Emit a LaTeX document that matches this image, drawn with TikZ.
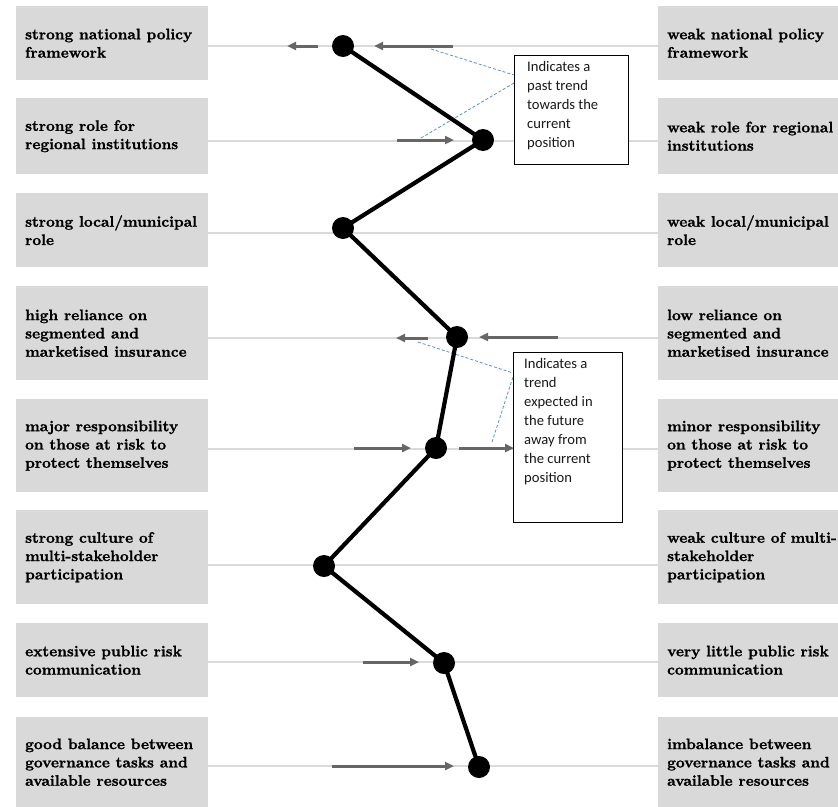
\documentclass[tikz,border=0pt]{standalone}
\usepackage{fontspec}
\newfontfamily\calfont{Carlito}
\newfontfamily\boxfont{lmroman10-bold}[Extension=.otf, FakeBold=1.2]
\usetikzlibrary{arrows.meta}
\definecolor{boxgray}{HTML}{D9D9D9}
\definecolor{guidegray}{HTML}{DADADA}
\definecolor{arrowgray}{HTML}{666666}
\definecolor{dashblue}{HTML}{5B8ED6}
\begin{document}
\begin{tikzpicture}[x=1pt,y=-1pt,
  lbox/.style={fill=boxgray, draw=none, inner sep=0pt, minimum width=192pt, anchor=north west},
  rbox/.style={fill=boxgray, draw=none, inner sep=0pt, minimum width=180pt, anchor=north west},
  btext/.style={anchor=west, align=left, inner sep=0pt, text=black,
    font=\boxfont\fontsize{15.2}{18.3}\selectfont},
  guide/.style={draw=guidegray, line width=2pt},
  callout/.style={draw=black, line width=1.1pt, fill=white, inner sep=0pt, anchor=north west},
  ctext/.style={anchor=north west, align=left, inner sep=0pt, text=black!90,
    font=\calfont\fontsize{14.6}{19}\selectfont},
  trendarrow/.style={draw=arrowgray, line width=3pt, -{Triangle[length=9pt,width=8pt]}},
  leader/.style={draw=dashblue, line width=0.8pt, dash pattern=on 3pt off 2pt},
  trend/.style={draw=black, line width=4.2pt, line join=round},
  dot/.style={circle, fill=black, inner sep=0pt, minimum size=22pt}
]
\useasboundingbox (0,0) rectangle (838,806);

% ---------- label boxes ----------
\node[lbox, minimum height=74pt] (L1) at (16,6) {};
\node[lbox, minimum height=76pt] (L2) at (16,98) {};
\node[lbox, minimum height=74pt] (L3) at (16,193) {};
\node[lbox, minimum height=94pt] (L4) at (16,286) {};
\node[lbox, minimum height=93pt] (L5) at (16,399) {};
\node[lbox, minimum height=94pt] (L6) at (16,510) {};
\node[lbox, minimum height=74pt] (L7) at (16,623) {};
\node[lbox, minimum height=94pt] (L8) at (16,717) {};

\node[rbox, minimum height=74pt] (R1) at (658,6) {};
\node[rbox, minimum height=76pt] (R2) at (658,98) {};
\node[rbox, minimum height=74pt] (R3) at (658,193) {};
\node[rbox, minimum height=94pt] (R4) at (658,286) {};
\node[rbox, minimum height=93pt] (R5) at (658,399) {};
\node[rbox, minimum height=94pt] (R6) at (658,510) {};
\node[rbox, minimum height=74pt] (R7) at (658,623) {};
\node[rbox, minimum height=94pt] (R8) at (658,717) {};

\node[btext] (tL1) at ([xshift=9pt]L1.west) {strong national policy\\framework};
\node[btext] (tL2) at ([xshift=9pt]L2.west) {strong role for\\regional institutions};
\node[btext] (tL3) at ([xshift=9pt]L3.west) {strong local/municipal\\role};
\node[btext] (tL4) at ([xshift=9pt]L4.west) {high reliance on\\segmented and\\marketised insurance};
\node[btext] (tL5) at ([xshift=9pt]L5.west) {major responsibility\\on those at risk to\\protect themselves};
\node[btext] (tL6) at ([xshift=9pt]L6.west) {strong culture of\\multi-stakeholder\\participation};
\node[btext] (tL7) at ([xshift=9pt]L7.west) {extensive public risk\\communication};
\node[btext] (tL8) at ([xshift=9pt,yshift=2pt]L8.west) {good balance between\\governance tasks and\\available resources};

\node[btext] (tR1) at ([xshift=9pt]R1.west) {weak national policy\\framework};
\node[btext] (tR2) at ([xshift=9pt]R2.west) {weak role for regional\\institutions};
\node[btext] (tR3) at ([xshift=9pt]R3.west) {weak local/municipal\\role};
\node[btext] (tR4) at ([xshift=9pt]R4.west) {low reliance on\\segmented and\\marketised insurance};
\node[btext] (tR5) at ([xshift=9pt]R5.west) {minor responsibility\\on those at risk to\\protect themselves};
\node[btext] (tR6) at ([xshift=9pt]R6.west) {weak culture of multi-\\stakeholder\\participation};
\node[btext] (tR7) at ([xshift=9pt]R7.west) {very little public risk\\communication};
\node[btext] (tR8) at ([xshift=9pt,yshift=2pt]R8.west) {imbalance between\\governance tasks and\\available resources};

% ---------- guide lines ----------
\coordinate (y1) at (0,46);
\coordinate (y2) at (0,141);
\coordinate (y3) at (0,233);
\coordinate (y4) at (0,338);
\coordinate (y5) at (0,449);
\coordinate (y6) at (0,565);
\coordinate (y7) at (0,662);
\coordinate (y8) at (0,766);
\foreach \i in {1,...,8}{
  \draw[guide] (L\i.east |- y\i) -- (R\i.west |- y\i);
}

% ---------- callout boxes ----------
\node[callout, minimum width=114pt, minimum height=109pt] (C1) at (514,55) {};
\node[ctext] (tC1) at (527,61) {Indicates a\\past trend\\towards the\\current\\position};
\node[callout, minimum width=109pt, minimum height=170pt] (C2) at (513,352) {};
\node[ctext] (tC2) at (524,358) {Indicates a\\trend\\expected in\\the future\\away from\\the current\\position};

% ---------- leader lines ----------
\coordinate (k1) at (431,49);
\coordinate (k2) at (421,138);
\coordinate (k3) at (418,342);
\coordinate (k4) at (492,442);
\draw[leader] (k1) -- ([yshift=-20pt]C1.north west);
\draw[leader] (k2) -- ([yshift=-28pt]C1.north west);
\draw[leader] (k3) -- ([yshift=-21pt]C2.north west);
\draw[leader] (k4) -- ([yshift=-25pt]C2.north west);

% ---------- trend arrows ----------
\coordinate (a1s) at (318,46);  \coordinate (a1e) at (287,46);
\coordinate (a2s) at (453,46);  \coordinate (a2e) at (374,46);
\coordinate (a3s) at (397,140); \coordinate (a3e) at (454,140);
\coordinate (a4s) at (428,338); \coordinate (a4e) at (396,338);
\coordinate (a5s) at (558,337); \coordinate (a5e) at (479,337);
\coordinate (a6s) at (354,448); \coordinate (a6e) at (411,448);
\coordinate (a7s) at (459,448); \coordinate (a7e) at (514,448);
\coordinate (a8s) at (363,662); \coordinate (a8e) at (419,662);
\coordinate (a9s) at (332,766); \coordinate (a9e) at (454,766);
\foreach \i in {1,...,9}{
  \draw[trendarrow] (a\i s) -- (a\i e);
}

% ---------- positions ----------
\node[dot] (p1) at (343,46) {};
\node[dot] (p2) at (483,140) {};
\node[dot] (p3) at (343,228) {};
\node[dot] (p4) at (457,337) {};
\node[dot] (p5) at (436,448) {};
\node[dot] (p6) at (324,566) {};
\node[dot] (p7) at (444,663) {};
\node[dot] (p8) at (479,767) {};
\draw[trend] (p1.center) -- (p2.center) -- (p3.center) -- (p4.center)
  -- (p5.center) -- (p6.center) -- (p7.center) -- (p8.center);
\end{tikzpicture}
\end{document}
